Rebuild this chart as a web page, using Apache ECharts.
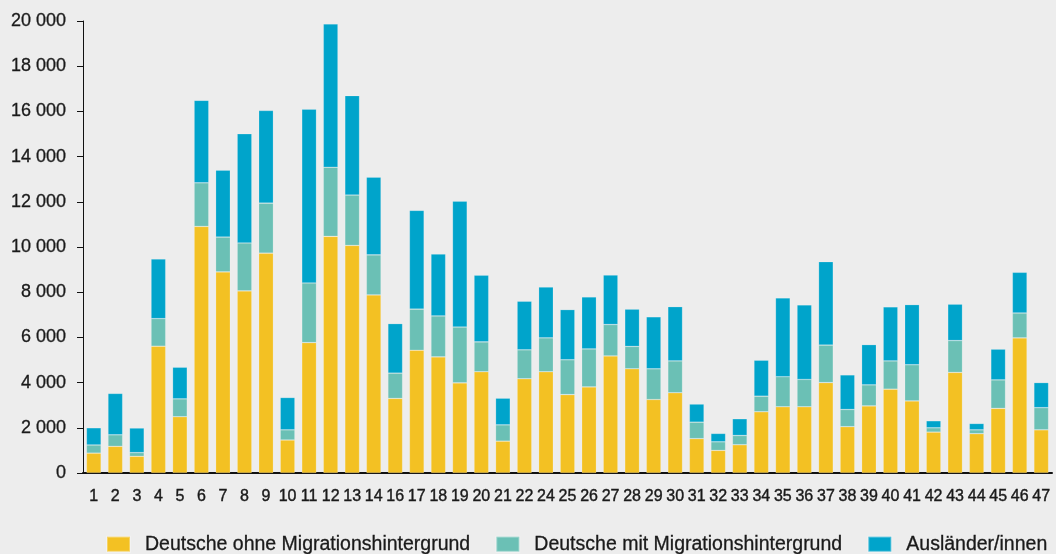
<!DOCTYPE html>
<html>
<head>
<meta charset="utf-8">
<style>
  html, body { margin: 0; padding: 0; background: #ededed; }
  #chart { width: 1056px; height: 554px; }
</style>
<script src="https://cdn.jsdelivr.net/npm/echarts@6/dist/echarts.min.js"></script>
</head>
<body>
<div id="chart"></div>
<script>
// Stadtbezirke (15 und 23 fehlen in der Vorlage)
const bezirke = ['1', '2', '3', '4', '5', '6', '7', '8', '9', '10', '11', '12', '13', '14',
  '16', '17', '18', '19', '20', '21', '22', '24', '25', '26', '27', '28', '29', '30',
  '31', '32', '33', '34', '35', '36', '37', '38', '39', '40', '41', '42', '43', '44',
  '45', '46', '47'];

const ohneMigration = [880, 1180, 740, 5610, 2490, 10910, 8900, 8060, 9730, 1460, 5770, 10470, 10070, 7880,
  3300, 5430, 5140, 3990, 4480, 1410, 4170, 4480, 3470, 3810, 5180, 4610, 3250, 3550,
  1520, 1000, 1250, 2710, 2930, 2930, 4000, 2050, 2970, 3710, 3190, 1810, 4450, 1740,
  2860, 5980, 1910];

const mitMigration = [360, 510, 160, 1220, 790, 1930, 1540, 2120, 2210, 450, 2640, 3060, 2230, 1770,
  1120, 1820, 1810, 2470, 1320, 720, 1280, 1500, 1540, 1680, 1390, 990, 1360, 1410,
  730, 380, 410, 690, 1330, 1210, 1660, 760, 930, 1250, 1600, 190, 1410, 170,
  1260, 1100, 980];

const auslaender = [760, 1830, 1090, 2640, 1400, 3650, 2960, 4830, 4100, 1430, 7690, 6340, 4400, 3440,
  2190, 4370, 2740, 5570, 2950, 1180, 2150, 2250, 2220, 2300, 2190, 1650, 2300, 2400,
  800, 370, 740, 1590, 3490, 3300, 3690, 1530, 1780, 2390, 2660, 310, 1610, 280,
  1360, 1800, 1110];

const farben = ['#f3c123', '#6bc0b5', '#00a4cb'];
const font = '"Liberation Sans", Arial, Helvetica, sans-serif';
const textColor = '#1a1a1a';

const chart = echarts.init(document.getElementById('chart'));

const mkSeries = (name, data, color) => ({
  name: name,
  type: 'bar',
  stack: 'gesamt',
  data: data,
  barWidth: '68%',
  itemStyle: {
    color: color,
    borderColor: 'rgba(255,255,255,0.3)',
    borderWidth: 0.6
  },
  emphasis: { disabled: true }
});

const option = {
  backgroundColor: '#ededed',
  animation: false,
  textStyle: { fontFamily: font },
  grid: { left: 83, right: 4, top: 21, bottom: 81, containLabel: false },
  legend: {
    left: 101,
    top: 529,
    itemWidth: 23,
    itemHeight: 15,
    itemGap: 25,
    icon: 'rect',
    textStyle: {
      fontSize: 19.5,
      color: textColor,
      fontFamily: font,
      padding: [0, 0, 0, 10],
      textBorderColor: textColor,
      textBorderWidth: 0.3
    },
    data: ['Deutsche ohne Migrationshintergrund', 'Deutsche mit Migrationshintergrund', 'Ausländer/innen']
  },
  xAxis: {
    type: 'category',
    data: bezirke,
    axisLine: { lineStyle: { color: '#111', width: 2 } },
    axisTick: { show: false },
    axisLabel: {
      interval: 0,
      margin: 16,
      fontSize: 16,
      color: textColor,
      fontFamily: font,
      textBorderColor: textColor,
      textBorderWidth: 0.4
    }
  },
  yAxis: {
    type: 'value',
    min: 0,
    max: 20000,
    interval: 2000,
    splitLine: { show: false },
    axisLine: { show: true, lineStyle: { color: '#111', width: 1 } },
    axisTick: { show: true, length: 6, lineStyle: { color: '#111' } },
    axisLabel: {
      margin: 17,
      fontSize: 18,
      color: textColor,
      fontFamily: font,
      textBorderColor: textColor,
      textBorderWidth: 0.3,
      formatter: v => String(v).replace(/\B(?=(\d{3})+(?!\d))/g, ' ')
    }
  },
  series: [
    mkSeries('Deutsche ohne Migrationshintergrund', ohneMigration, farben[0]),
    mkSeries('Deutsche mit Migrationshintergrund', mitMigration, farben[1]),
    mkSeries('Ausländer/innen', auslaender, farben[2])
  ]
};

chart.setOption(option);
</script>
</body>
</html>
